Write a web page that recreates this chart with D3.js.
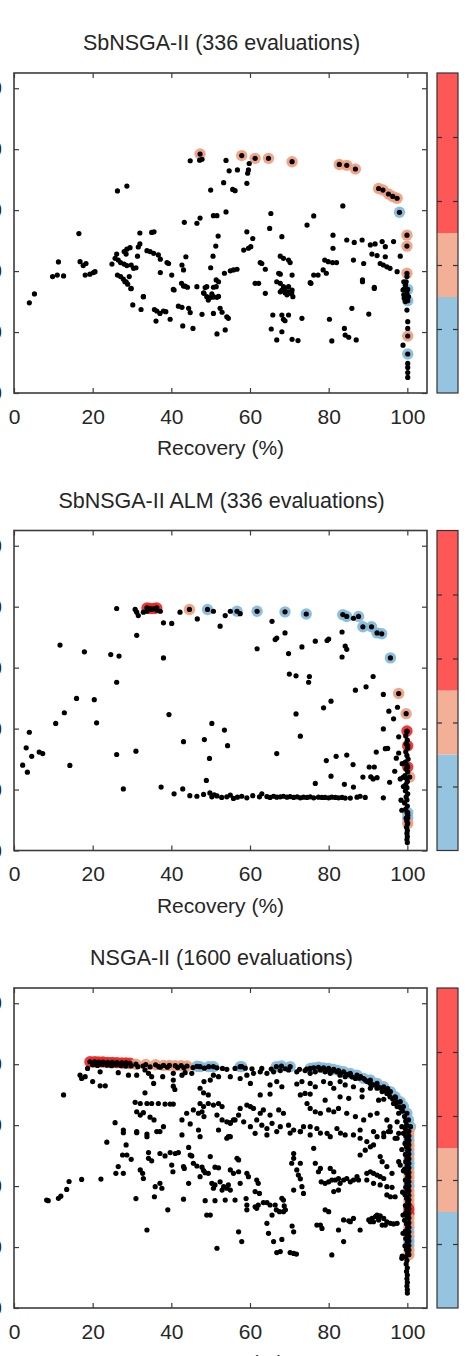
<!DOCTYPE html>
<html>
<head>
<meta charset="utf-8">
<script src="https://cdn.jsdelivr.net/npm/d3@7"></script>
<style>
  body { margin: 0; background: #fff; }
  text { font-family: "Liberation Sans", Arial, sans-serif; fill: #262626; }
</style>
</head>
<body>
<div id="chart"></div>
<script>
// ---------- data ----------
const titles = ['SbNSGA-II (336 evaluations)', 'SbNSGA-II ALM (336 evaluations)', 'NSGA-II (1600 evaluations)'];
const xLabel = 'Recovery (%)';
const xTicks = [0, 20, 40, 60, 80, 100];
const yTicks = [0, 20, 40, 60, 80, 100];
const cbTicks = [1, 2, 3, 4];
// colour bar bands: blue 0-1.5, salmon 1.5-2.5, red 2.5-5
const cbBreaks = [0, 1.5, 2.5, 5];
const cbColors = ['#95c4e0', '#f4b096', '#ff5656'];
const haloColors = ['#80b8db', '#f09c7b', '#ee2424'];

// panel 1 : SbNSGA-II
const p1Dots = [
  [44.8,76.2],[47.2,76.4],[47.8,76.7],[53.9,76.3],[54.7,72.9],[56.8,73.2],[50.0,66.6],[53.3,69.0],[55.6,66.8],[56.2,66.4],
  [26.3,66.3],[28.7,67.9],[53.9,59.4],[50.7,58.2],[51.6,58.2],[47.3,57.4],[46.5,55.7],[43.3,56.0],[51.9,51.5],[51.3,48.2],
  [50.6,44.9],[50.0,41.1],[43.7,44.7],[42.7,42.0],[43.1,40.4],[16.5,52.3],[32.0,52.5],[35.0,52.7],[35.6,52.9],[32.0,48.9],
  [31.6,47.9],[31.4,44.9],[33.8,46.7],[34.6,46.4],[35.5,45.8],[29.5,47.7],[28.7,47.2],[28.0,46.4],[28.5,45.6],[26.1,45.6],
  [25.7,44.2],[26.5,43.6],[27.1,42.8],[24.9,42.3],[28.0,42.3],[28.7,41.8],[29.8,42.0],[30.4,40.9],[31.0,41.1],[36.7,45.3],
  [37.2,43.9],[38.9,42.8],[39.3,42.5],[37.2,39.5],[40.1,38.7],[26.3,38.7],[27.1,38.2],[27.8,37.4],[28.5,36.5],[29.3,38.2],
  [28.9,35.7],[29.7,34.2],[11.3,43.0],[16.8,43.1],[17.6,41.8],[18.3,42.5],[19.3,39.0],[20.2,39.5],[20.6,39.8],[18.1,38.7],
  [9.8,38.2],[11.0,38.7],[12.6,38.4],[42.6,36.0],[43.5,35.1],[46.5,34.9],[49.0,34.9],[50.7,34.7],[51.4,34.9],[50.3,32.5],
  [50.7,31.6],[51.6,31.4],[48.2,32.9],[49.0,31.6],[40.7,33.8],[32.9,31.6],[53.5,39.3],[55.0,40.1],[55.8,40.4],[56.7,40.6],
  [52.0,36.5],[51.4,37.1],[59.6,73.2],[59.4,72.1],[59.8,75.3],[59.2,68.8],[65.3,58.9],[65.0,54.0],[68.1,51.3],[59.2,52.9],
  [60.7,50.7],[58.4,46.9],[59.6,47.5],[60.2,48.0],[67.7,44.9],[68.5,44.2],[69.8,43.6],[70.2,42.8],[62.6,42.8],[63.0,42.5],
  [63.9,40.6],[67.3,39.3],[67.7,39.0],[70.7,38.7],[61.3,36.0],[62.2,36.0],[66.8,36.5],[67.7,36.0],[68.1,33.8],[68.9,34.3],
  [69.8,33.2],[70.6,32.9],[63.9,32.7],[75.3,36.2],[74.5,55.1],[76.2,58.1],[76.2,38.7],[77.3,38.7],[78.6,40.4],[79.4,39.3],
  [79.0,43.6],[79.9,43.1],[81.0,42.8],[82.0,42.8],[81.1,47.5],[81.1,51.8],[83.6,61.4],[84.6,50.2],[86.5,49.4],[88.5,50.2],
  [86.3,43.6],[88.9,42.5],[90.6,48.6],[91.8,48.9],[93.6,49.7],[94.4,48.0],[91.0,45.6],[92.3,45.1],[94.4,44.7],[93.1,42.5],
  [93.9,42.0],[94.8,41.4],[95.6,40.9],[96.5,49.7],[98.2,44.9],[97.4,39.8],[88.6,37.1],[91.6,34.3],[99.9,38.2],[99.7,36.5],
  [99.5,35.4],[99.1,34.0],[99.9,32.7],[100.3,31.6],[3.9,29.6],[5.2,32.5],[28.2,36.5],[29.8,34.3],[32.9,31.6],[30.2,28.9],
  [32.3,27.4],[35.7,27.4],[36.3,26.9],[37.1,26.1],[38.0,26.9],[38.6,26.7],[36.1,23.6],[39.7,24.2],[40.5,34.0],[43.1,35.1],
  [44.1,34.7],[48.6,34.6],[41.8,28.5],[42.7,28.1],[44.4,27.8],[44.8,26.4],[47.8,25.8],[50.7,26.1],[42.9,22.0],[45.5,21.2],
  [48.3,32.7],[49.4,30.5],[49.9,31.3],[50.7,31.5],[52.0,31.7],[52.4,27.8],[52.9,26.5],[54.1,25.0],[54.5,24.5],[51.6,19.4],
  [53.7,20.7],[65.4,21.0],[65.8,25.6],[68.1,25.6],[69.8,25.6],[68.5,24.2],[68.9,23.7],[67.7,33.2],[68.9,32.9],[69.4,32.2],
  [70.7,33.8],[70.9,31.6],[68.5,34.9],[69.8,34.9],[70.2,32.7],[68.1,20.1],[66.8,17.4],[70.7,17.6],[72.2,17.2],[73.2,24.5],
  [75.5,36.0],[80.2,24.2],[80.8,17.1],[84.0,21.2],[84.2,19.0],[85.1,18.3],[87.0,17.4],[85.9,27.8],[90.2,25.9],[88.6,36.5],
  [91.6,34.7],[98.9,33.8],[99.1,32.2],[99.2,31.1],[99.5,30.0],[99.9,27.2],[100.1,23.4],[100.1,21.2],[98.9,15.7],[100.1,9.7],
  [100.1,8.4],[100.1,6.7],[100.1,5.1],[99.1,36.5],[99.5,35.4]
];
// front points: [recovery, y, colour level 0 blue / 1 salmon / 2 red]
const p1Front = [
  [47.3,78.4,1],[57.9,77.9,1],[61.3,77.0,1],[64.7,77.0,1],[70.7,75.9,1],[82.7,75.0,1],[84.6,74.7,1],[86.8,73.5,1],
  [92.7,67.1,1],[93.8,66.6,1],[95.2,65.3,1],[96.3,64.5,1],[97.4,63.9,1],[98.0,59.3,0],[99.9,51.8,1],[99.9,48.2,1],
  [99.9,39.3,1],[100.1,34.0,0],[100.1,30.3,0],[100.1,18.7,1],[100.1,12.8,0]
];

// panel 2 : SbNSGA-II ALM
const p2Dots = [
  [26.1,79.4],[30.8,79.1],[31.2,78.2],[31.6,77.1],[32.9,78.2],[33.8,78.5],[35.0,79.1],[36.3,78.9],[37.2,78.5],[38.0,74.7],
  [40.1,74.5],[42.2,78.2],[46.6,76.0],[50.7,78.5],[31.2,70.6],[11.7,67.4],[17.9,65.2],[24.6,64.3],[26.7,63.8],[38.0,63.2],
  [52.4,73.6],[53.7,77.1],[55.0,78.5],[57.5,77.7],[65.6,75.2],[68.9,71.4],[66.4,69.2],[66.8,69.7],[61.8,66.2],[69.8,64.6],
  [73.2,66.8],[76.6,68.7],[79.6,68.9],[80.0,69.4],[83.4,71.7],[84.2,67.1],[84.6,66.0],[83.4,63.5],[86.3,76.2],[70.0,57.9],
  [71.7,57.3],[75.1,57.1],[91.3,57.1],[26.1,55.2],[74.9,55.2],[15.9,49.9],[20.4,49.5],[12.8,45.2],[10.6,41.7],[21.0,41.9],
  [3.9,38.8],[3.1,33.7],[4.5,30.9],[6.4,32.3],[7.3,31.8],[2.2,28.0],[3.4,25.7],[14.2,27.9],[26.1,31.5],[27.8,20.2],
  [31.0,32.6],[39.4,44.6],[37.4,20.8],[43.1,35.7],[48.4,36.4],[50.3,41.7],[53.5,39.5],[54.3,34.4],[49.7,30.2],[48.9,23.0],
  [40.7,18.6],[42.9,20.2],[44.7,18.0],[46.5,17.8],[48.2,18.4],[49.8,18.9],[50.3,17.6],[50.9,18.3],[51.6,17.9],[52.8,17.4],
  [54.1,17.6],[55.0,18.2],[55.8,17.1],[56.8,17.5],[57.9,17.8],[59.2,17.3],[60.7,18.0],[62.4,17.6],[63.0,18.6],[64.3,17.7],
  [65.1,17.4],[66.0,17.8],[66.8,17.5],[67.7,17.6],[68.5,17.8],[69.4,17.5],[70.2,17.7],[71.1,17.4],[72.0,17.6],[72.8,17.3],
  [73.6,17.5],[74.5,17.4],[75.3,17.6],[76.2,17.3],[77.4,17.5],[78.3,17.4],[79.1,17.4],[80.0,17.3],[80.8,17.5],[81.7,17.4],
  [82.5,17.3],[83.4,17.4],[84.2,17.2],[85.5,17.2],[87.2,17.5],[88.0,17.8],[89.3,17.4],[66.8,31.8],[71.7,44.8],[72.8,37.5],
  [76.6,22.0],[78.7,46.8],[80.6,49.0],[79.4,29.5],[81.9,30.9],[80.6,24.4],[84.0,21.7],[84.6,31.3],[86.2,28.2],[86.3,20.8],
  [86.8,52.6],[89.5,53.7],[93.9,51.2],[90.3,27.4],[91.6,27.4],[88.7,24.1],[90.7,24.2],[91.3,23.5],[92.3,23.9],[92.1,32.3],
  [93.9,39.9],[94.4,33.4],[95.0,33.5],[95.3,45.7],[96.5,43.2],[97.5,47.0],[95.5,22.4],[93.9,17.3],[96.8,26.0],[97.2,30.3],
  [97.8,37.3],[97.8,32.0],[98.2,23.5],[99.9,39.0],[99.6,37.6],[100.0,36.2],[99.7,35.0],[100.1,33.6],[99.6,32.4],[99.9,31.2],
  [100.2,30.0],[99.5,29.0],[99.9,28.0],[99.7,26.8],[100.1,25.8],[99.4,24.6],[99.8,23.6],[100.0,22.6],[99.6,21.6],[99.9,20.6],
  [99.5,19.6],[100.1,18.6],[99.7,17.6],[99.9,16.6],[99.3,15.6],[100.0,14.6],[99.6,13.6],[99.9,12.6],[100.1,11.6],[99.7,10.6],
  [99.9,9.6],[100.0,8.6],[99.8,7.6],[100.0,6.6],[99.9,5.6],[100.0,4.6],[99.9,3.6],[100.0,2.6],[98.4,16.5],[98.6,13.2],
  [98.9,24.0],[98.7,28.5],[99.0,21.0]
];
const p2Front = [
  [33.8,79.6,2],[34.6,79.4,2],[35.6,79.4,2],[36.3,79.6,2],[44.6,79.1,1],[49.2,79.1,0],[56.7,78.5,0],[61.8,78.5,0],
  [68.9,78.3,0],[74.3,77.6,0],[83.6,77.4,0],[84.6,76.8,0],[87.6,76.8,0],[88.7,73.4,0],[90.9,73.4,0],[92.3,71.4,0],
  [93.5,71.1,0],[95.7,63.2,0],[97.8,51.5,1],[99.7,44.9,1],[99.9,39.2,2],[100.1,34.4,2],[100.1,27.4,2],[100.6,24.1,1],
  [100.1,12.4,0],[100.1,10.7,0],[100.1,8.9,1]
];

// panel 3 : NSGA-II
const p3Dots = [
  [12.6,69.9],[16.8,76.4],[17.2,75.3],[18.1,75.9],[20.0,74.3],[21.9,72.9],[23.2,72.9],[18.7,78.6],[21.9,77.5],[26.5,77.2],
  [29.1,76.4],[31.2,76.4],[34.2,77.0],[35.0,75.9],[35.5,73.7],[37.8,75.9],[40.5,72.8],[40.9,71.7],[33.3,70.6],[30.8,67.5],
  [32.1,67.1],[33.8,67.1],[35.0,67.1],[36.7,67.1],[38.4,66.9],[39.7,66.9],[40.5,66.9],[31.2,64.4],[32.1,63.3],[32.9,64.1],
  [34.6,62.6],[35.6,61.7],[47.3,72.1],[48.2,70.6],[49.4,69.9],[45.2,77.0],[42.7,76.4],[43.5,77.2],[40.5,77.0],[47.3,67.1],
  [48.2,66.1],[49.4,67.1],[50.7,66.6],[52.0,67.1],[52.9,66.1],[45.6,65.0],[46.9,63.9],[47.8,64.4],[48.3,62.8],[43.9,63.9],
  [42.7,61.7],[44.8,60.4],[51.6,63.3],[52.9,61.7],[54.1,61.1],[55.0,60.6],[55.8,61.7],[57.1,63.3],[25.7,60.8],[27.8,58.4],
  [31.2,57.9],[33.8,57.1],[36.3,57.9],[38.0,59.5],[42.7,56.8],[46.9,58.4],[47.3,56.2],[52.0,58.4],[55.0,56.2],[50.7,76.4],
  [52.0,75.9],[54.1,78.3],[48.3,74.3],[49.9,74.8],[40.5,74.8],[33.3,78.1],[37.2,79.0],[55.0,75.9],[57.5,75.3],[59.2,76.4],
  [60.9,77.0],[62.6,77.5],[64.3,77.0],[66.0,77.5],[67.7,77.9],[69.8,78.1],[71.9,77.5],[74.0,77.9],[75.3,77.0],[76.6,77.5],
  [77.9,78.1],[79.1,77.5],[80.4,77.0],[82.1,77.5],[82.9,76.4],[84.2,75.9],[85.5,76.4],[86.8,75.3],[88.1,75.9],[89.3,74.8],
  [90.6,73.7],[60.1,73.7],[65.1,73.2],[66.8,74.3],[68.1,72.6],[71.9,73.5],[73.2,74.3],[75.3,73.7],[76.6,72.6],[78.7,74.3],
  [80.4,73.7],[81.3,72.1],[82.9,74.3],[84.2,73.2],[86.3,72.6],[88.5,71.5],[90.6,72.1],[92.3,72.1],[93.6,71.0],[94.8,70.4],
  [95.6,69.3],[62.6,69.9],[65.1,70.2],[72.8,69.9],[74.0,70.4],[75.3,70.2],[79.1,68.2],[82.9,69.3],[85.1,68.8],[88.5,69.3],
  [92.7,68.2],[94.0,68.5],[96.5,67.1],[97.4,66.1],[97.8,63.9],[57.5,65.5],[59.2,66.6],[60.1,66.1],[60.9,65.5],[62.6,63.9],
  [63.4,65.0],[65.1,63.3],[67.3,65.0],[68.5,63.9],[74.5,67.1],[75.3,65.5],[76.6,64.4],[77.9,63.9],[80.0,65.0],[81.3,64.4],
  [82.5,65.5],[84.6,63.9],[86.8,62.8],[88.9,61.7],[90.6,63.3],[92.3,63.9],[94.8,61.7],[95.6,59.5],[97.4,61.1],[98.6,59.5],
  [99.0,57.3],[55.0,60.8],[56.2,61.7],[58.4,61.1],[60.1,59.5],[61.7,61.7],[63.0,60.0],[64.3,58.9],[65.6,60.6],[67.7,59.5],
  [69.8,60.0],[71.1,58.4],[72.8,57.9],[73.6,59.5],[75.3,59.5],[77.0,58.9],[79.6,57.3],[82.1,58.9],[84.2,56.8],[88.0,58.4],
  [91.4,57.9],[94.0,56.2],[95.2,57.9],[96.9,55.7],[97.8,57.3],[27.8,57.5],[31.2,57.5],[33.8,56.2],[37.1,57.9],[23.6,54.4],
  [28.5,53.5],[27.6,50.2],[28.7,50.2],[29.8,48.8],[26.5,46.4],[25.9,44.2],[27.8,44.2],[32.1,45.3],[32.7,44.2],[34.2,51.0],
  [34.2,49.1],[35.0,48.3],[37.1,50.7],[38.4,49.9],[39.7,51.0],[41.0,50.7],[41.8,51.0],[40.1,46.9],[40.4,44.7],[43.1,46.4],
  [43.3,45.8],[44.4,52.7],[44.8,50.2],[45.2,49.9],[45.6,47.5],[46.5,46.6],[47.8,46.2],[48.2,45.1],[48.6,44.4],[49.4,44.2],
  [49.9,49.7],[51.1,46.2],[52.0,46.0],[47.3,43.1],[44.4,40.9],[50.3,40.9],[51.1,40.4],[50.7,39.3],[52.4,41.4],[53.3,39.8],
  [54.1,39.3],[54.5,40.4],[55.0,38.7],[52.9,38.7],[55.8,44.2],[55.0,45.3],[57.1,44.7],[56.7,49.1],[57.1,48.6],[54.5,56.2],
  [54.1,55.7],[57.5,40.9],[59.2,44.2],[59.6,43.1],[61.7,42.0],[62.1,40.9],[61.3,38.2],[62.4,37.6],[59.0,35.9],[59.2,33.8],
  [59.2,32.2],[61.3,33.2],[61.7,32.7],[62.1,33.8],[56.2,35.4],[53.7,35.4],[51.1,35.2],[48.6,35.2],[49.0,30.5],[49.9,30.5],
  [43.1,35.7],[39.1,32.2],[33.8,25.6],[31.0,35.9],[35.7,36.5],[32.9,42.5],[35.9,39.8],[37.1,40.9],[37.6,39.3],[8.3,35.4],
  [8.7,35.2],[11.3,36.0],[11.9,36.7],[13.4,38.9],[14.0,41.5],[17.2,42.2],[22.1,42.3],[51.6,19.6],[57.1,25.0],[57.9,21.8],
  [64.3,27.8],[64.7,24.5],[66.0,21.8],[68.1,22.5],[66.8,18.2],[67.7,18.5],[70.2,18.2],[71.1,17.9],[71.8,17.7],[70.7,26.9],
  [71.1,25.0],[66.4,33.8],[65.6,30.5],[65.1,33.8],[64.3,34.6],[63.4,34.6],[66.7,32.2],[67.5,31.6],[68.5,31.6],[69.0,32.2],
  [68.7,33.5],[68.1,36.0],[68.5,35.4],[71.1,38.7],[73.2,39.8],[73.6,37.6],[71.9,45.3],[72.3,43.6],[72.8,42.4],[70.6,47.5],
  [71.1,49.1],[71.1,50.7],[72.8,47.5],[76.2,52.4],[76.6,47.5],[77.4,44.7],[77.9,45.8],[78.1,41.4],[79.1,40.9],[80.0,41.4],
  [80.8,42.0],[81.7,42.0],[82.5,42.5],[82.9,40.9],[83.8,42.0],[84.6,42.5],[85.5,41.4],[86.3,42.0],[87.2,43.1],[87.6,42.0],
  [80.4,45.8],[81.3,44.7],[81.3,38.2],[82.5,38.7],[79.1,32.2],[80.0,31.6],[77.0,27.2],[78.3,26.1],[77.9,27.2],[82.5,25.6],
  [83.8,28.9],[85.1,28.6],[86.3,29.4],[85.5,28.3],[88.0,25.6],[83.8,21.8],[80.8,17.4],[89.7,44.2],[90.6,44.7],[91.4,44.2],
  [92.3,43.6],[93.1,43.1],[94.0,42.5],[89.7,42.0],[91.4,40.9],[93.1,40.4],[94.8,39.8],[96.1,39.6],[88.0,50.2],[89.3,51.8],
  [90.6,52.9],[91.4,53.5],[93.1,49.7],[93.6,48.0],[94.8,46.4],[96.1,44.2],[94.8,37.1],[95.7,36.5],[96.9,36.5],[97.8,48.0],
  [98.2,46.9],[90.2,28.9],[91.0,29.4],[91.9,30.0],[92.3,30.5],[93.1,30.2],[94.0,29.4],[94.8,28.3],[95.7,27.8],[96.5,27.6],
  [97.4,27.8],[91.4,28.3],[92.7,28.9],[93.6,27.2],[94.4,27.2],[90.6,28.3],[98.6,16.3],[61.3,57.3],[64.3,56.8],[66.8,57.9],
  [70.2,57.4],[72.8,57.9],[75.3,56.8],[77.9,57.4],[80.4,56.2],[83.0,57.4],[86.3,56.8],[88.0,55.7],[89.7,54.6],[92.3,56.2],
  [94.0,57.4],[95.7,57.9],[97.4,55.7],[99.8,60.0],[99.5,58.8],[100.0,57.6],[99.6,56.4],[99.9,55.2],[99.4,54.0],[99.8,52.8],
  [100.1,51.6],[99.5,50.4],[99.9,49.2],[99.6,48.0],[100.0,46.8],[99.3,45.6],[99.8,44.4],[100.1,43.2],[99.5,42.0],[99.9,40.8],
  [99.6,39.6],[100.0,38.4],[99.4,37.2],[99.8,36.0],[100.1,34.8],[99.5,33.6],[99.9,32.4],[99.6,31.2],[100.0,30.0],[99.3,28.8],
  [99.8,27.6],[100.1,26.4],[99.5,25.2],[99.9,24.0],[99.6,22.8],[100.0,21.6],[99.4,20.4],[99.8,19.2],[100.1,18.0],[99.6,16.8],
  [99.9,15.6],[99.7,14.4],[100.0,13.2],[99.8,12.0],[100.0,10.8],[99.9,9.6],[100.0,8.4],[99.9,7.2],[100.0,6.0],[100.0,4.9],
  [98.7,17.0],[98.9,30.5],[98.8,38.0],[99.0,45.0],[98.6,52.0],[98.9,24.5],
  // thick band just under the front
  [20.0,79.8],[21.2,79.6],[22.4,79.9],[23.6,79.7],[24.8,79.5],[26.0,79.8],[27.2,79.6],[28.4,79.4],[29.8,79.5],[31.5,79.2],
  [32.8,79.4],[34.6,79.1],[36.8,79.2],[39.0,79.0],[41.6,78.9],[43.2,78.8],[45.5,78.9],[48.4,78.7],[51.6,78.8],[53.0,78.6],
  [56.2,78.6],[58.8,78.7],[60.5,78.5],[63.0,78.6],[65.4,78.4],[69.0,78.5],[72.6,78.3],[74.4,78.4],[79.5,78.1],[81.0,77.8],
  [83.0,77.0],[84.6,76.7],[86.0,75.8],[87.8,75.4],[89.8,74.3],[91.4,73.2],[93.0,72.3],[94.5,71.4],[95.3,70.2],[96.3,68.6],
  [97.3,67.6],[98.0,66.0],[98.8,64.6],[99.3,62.8],[99.6,61.3],[95.0,72.0],[97.0,69.0],[98.5,65.5]
];
const p3Front = [
  [19.3,80.8,2],[20.5,80.8,2],[21.5,80.7,2],[22.6,80.7,2],[23.8,80.6,2],[25.0,80.6,2],[26.2,80.5,2],[27.4,80.4,2],
  [28.5,80.4,2],[29.5,80.3,2],[31.0,80.0,1],[33.5,79.9,1],[36.0,79.8,1],[38.0,79.6,1],[39.5,79.6,1],[41.0,79.5,1],
  [42.5,79.5,1],[44.0,79.4,1],[46.5,79.3,0],[47.3,79.2,0],[49.5,79.2,0],[50.7,79.2,0],[57.5,79.2,0],[57.9,79.2,0],
  [66.7,79.2,0],[68.0,79.4,0],[70.2,79.2,0],[75.3,78.6,0],[76.2,78.8,0],[77.4,79.0,0],[78.7,78.8,0],[80.0,78.6,0],
  [81.3,78.3,0],[82.5,77.9,0],[83.8,77.5,0],[85.5,77.0,0],[87.2,76.4,0],[88.9,75.3,0],[90.6,74.8,0],[92.3,73.7,0],
  [94.0,72.6,0],[95.7,71.0,0],[96.9,69.3,0],[98.2,67.7,0],[99.0,66.1,0],[99.9,63.9,0],[100.3,61.7,0],[100.8,59.5,0],
  [100.4,58.0,1],[100.4,56.5,1],[100.4,55.0,0],[100.4,53.5,1],[100.4,52.0,1],[100.4,50.5,0],[100.4,49.0,1],[100.4,47.5,0],
  [100.4,46.0,0],[100.4,44.5,1],[100.4,43.0,1],[100.4,41.5,1],[100.4,40.0,0],[100.4,38.5,1],[100.4,37.0,1],[100.4,35.5,1],
  [100.4,34.0,1],[100.4,32.5,2],[100.4,31.0,2],[100.4,29.5,1],[100.4,28.0,1],[100.4,26.5,1],[100.4,25.0,0],[100.4,23.5,1],
  [100.4,22.0,0],[100.4,20.5,0],[100.4,19.0,1],[100.4,17.5,1]
];

const panels = [
  {title: titles[0], dots: p1Dots, front: p1Front},
  {title: titles[1], dots: p2Dots, front: p2Front},
  {title: titles[2], dots: p3Dots, front: p3Front}
];

// ---------- layout ----------
const width = 468, height = 1356;
const plotL = 14, plotR = 427, plotH = 320, firstTop = 73, step = 457.5;
const cbX = 437, cbW = 21;
const frameColor = '#3c3c3c';

const svg = d3.select('#chart').append('svg')
  .attr('width', width).attr('height', height)
  .attr('viewBox', `0 0 ${width} ${height}`);

const x = d3.scaleLinear().domain([0, 105]).range([plotL, plotR]);

panels.forEach((p, i) => {
  const top = firstTop + i * step, bottom = top + plotH;
  const y = d3.scaleLinear().domain([0, 105]).range([bottom, top]);
  const g = svg.append('g');

  // title
  g.append('text')
    .attr('x', (plotL + plotR) / 2 + 1).attr('y', top - 23)
    .attr('text-anchor', 'middle').style('font-size', '21.5px')
    .text(p.title);

  // halos then dots
  g.append('g').selectAll('circle')
    .data(p.front)
    .join('circle')
    .attr('cx', d => x(d[0])).attr('cy', d => y(d[1]))
    .attr('r', 5.7)
    .attr('fill', d => haloColors[d[2]])
    .attr('fill-opacity', 0.9);

  g.append('g').selectAll('circle')
    .data(p.dots.concat(p.front))
    .join('circle')
    .attr('cx', d => x(d[0])).attr('cy', d => y(d[1]))
    .attr('r', 2.6)
    .attr('fill', '#000');

  // axes (gnuplot style: inward ticks, mirrored)
  const axB = g.append('g').attr('transform', `translate(0,${bottom})`)
    .call(d3.axisBottom(x).tickValues(xTicks).tickSize(-5).tickSizeOuter(0).tickPadding(16));
  const axT = g.append('g').attr('transform', `translate(0,${top})`)
    .call(d3.axisTop(x).tickValues(xTicks).tickSize(-5).tickSizeOuter(0).tickFormat(''));
  const axL = g.append('g').attr('transform', `translate(${plotL},0)`)
    .call(d3.axisLeft(y).tickValues(yTicks).tickSize(-5).tickSizeOuter(0).tickPadding(12));
  const axR = g.append('g').attr('transform', `translate(${plotR},0)`)
    .call(d3.axisRight(y).tickValues(yTicks).tickSize(-5).tickSizeOuter(0).tickFormat(''));
  [axB, axT, axL, axR].forEach(a => {
    a.select('.domain').remove();
    a.selectAll('line').attr('stroke', frameColor).attr('stroke-width', 1.2);
    a.selectAll('text').style('font-size', '21px').attr('fill', '#262626')
      .style('font-family', '"Liberation Sans", Arial, sans-serif');
  });

  g.append('rect')
    .attr('x', plotL).attr('y', top).attr('width', plotR - plotL).attr('height', plotH)
    .attr('fill', 'none').attr('stroke', frameColor).attr('stroke-width', 1.6);

  // x axis label
  g.append('text')
    .attr('x', (plotL + plotR) / 2).attr('y', bottom + 62)
    .attr('text-anchor', 'middle').style('font-size', '21px')
    .text(xLabel);

  // colour bar
  const cb = d3.scaleLinear().domain([0, 5]).range([bottom, top]);
  const bands = cbColors.map((c, k) => ({from: cbBreaks[k], to: cbBreaks[k + 1], color: c}));
  g.append('g').selectAll('rect')
    .data(bands)
    .join('rect')
    .attr('x', cbX).attr('width', cbW)
    .attr('y', d => cb(d.to)).attr('height', d => cb(d.from) - cb(d.to))
    .attr('fill', d => d.color);
  const cbL = g.append('g').attr('transform', `translate(${cbX},0)`)
    .call(d3.axisLeft(cb).tickValues(cbTicks).tickSize(-5).tickSizeOuter(0).tickFormat(''));
  const cbR = g.append('g').attr('transform', `translate(${cbX + cbW},0)`)
    .call(d3.axisRight(cb).tickValues(cbTicks).tickSize(-5).tickSizeOuter(0).tickFormat(''));
  [cbL, cbR].forEach(a => {
    a.select('.domain').remove();
    a.selectAll('line').attr('stroke', '#333').attr('stroke-width', 1.2);
  });
  g.append('rect')
    .attr('x', cbX).attr('y', top).attr('width', cbW).attr('height', plotH)
    .attr('fill', 'none').attr('stroke', '#333').attr('stroke-width', 1.2);
});
</script>
</body>
</html>
